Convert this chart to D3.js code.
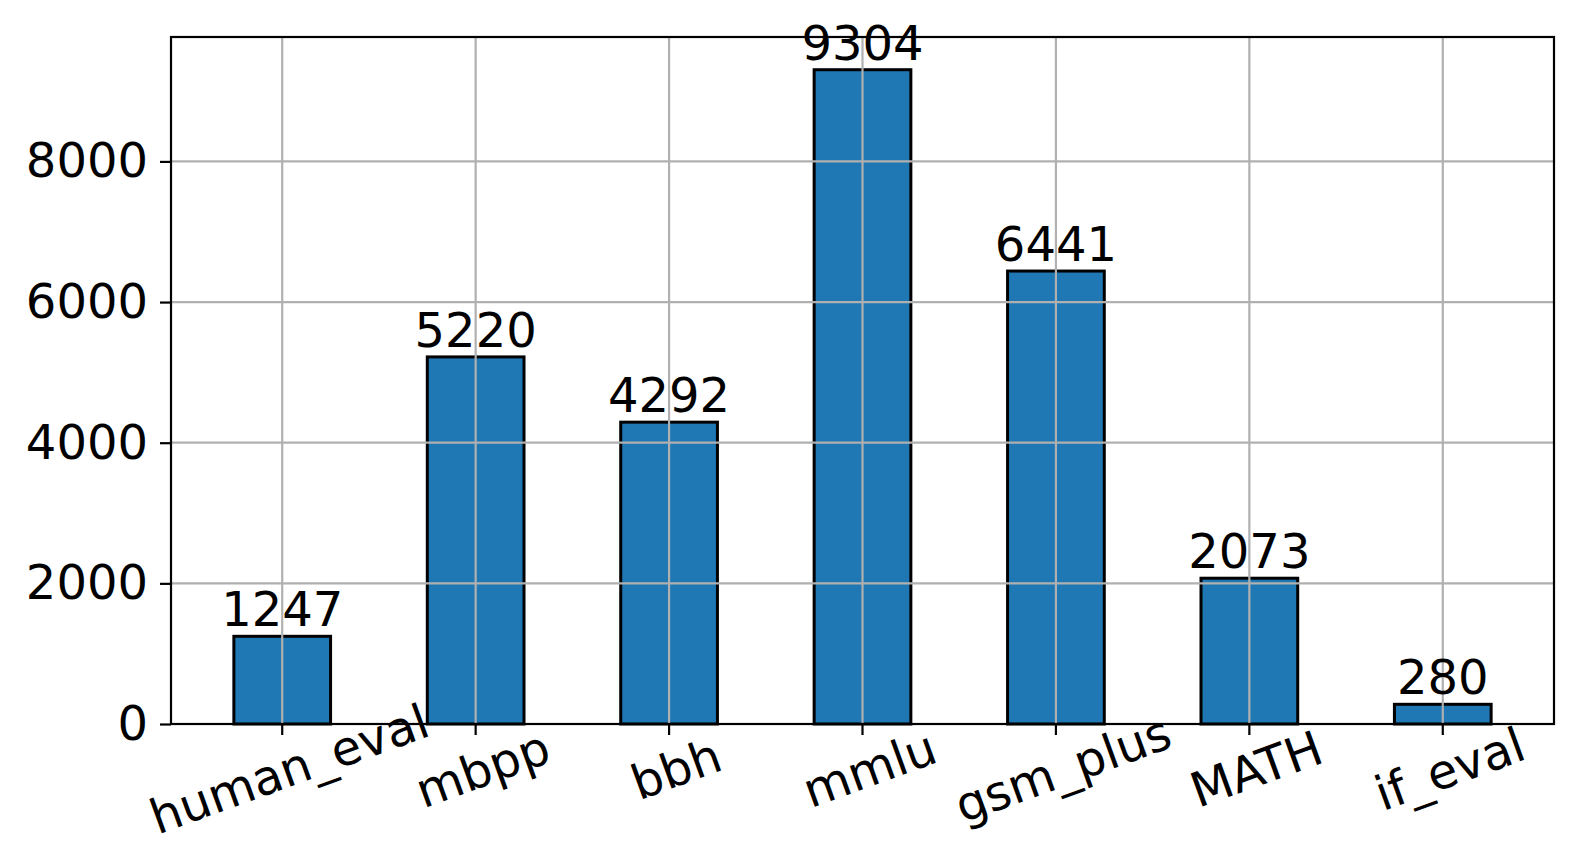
<!DOCTYPE html>
<html>
<head>
<meta charset="utf-8">
<script src="https://cdn.jsdelivr.net/npm/d3@7"></script>
<style>
  body { margin: 0; background: #fff; }
  text { font-family: "DejaVu Sans", sans-serif; fill: #000; }
</style>
</head>
<body>
<svg id="chart" width="1576" height="867"></svg>
<script>
// data
const categories = ["human_eval", "mbpp", "bbh", "mmlu", "gsm_plus", "MATH", "if_eval"];
const counts = [1247, 5220, 4292, 9304, 6441, 2073, 280];
const y_ticks = [0, 2000, 4000, 6000, 8000];

const svg = d3.select("#chart"),
  margin = {top: 37, right: 22, bottom: 143, left: 171},
  width = +svg.attr("width") - margin.left - margin.right,
  height = +svg.attr("height") - margin.top - margin.bottom;

const font_size = 48;
const tick_len = 11;

// positional x scale like pandas (bars at 0..n-1, width 0.5)
const x = d3.scaleLinear()
  .domain([-0.575, categories.length - 1 + 0.575])
  .range([0, width]);
const bar_w = x(0.5) - x(0);

const y = d3.scaleLinear()
  .domain([0, d3.max(counts) * 1.05])
  .range([height, 0]);

const g = svg.append("g").attr("transform", `translate(${margin.left},${margin.top})`);

// bars
g.selectAll("rect.bar")
  .data(counts)
  .enter()
  .append("rect")
  .attr("class", "bar")
  .attr("x", (d, i) => x(i) - bar_w / 2)
  .attr("y", d => y(d))
  .attr("width", bar_w)
  .attr("height", d => height - y(d))
  .attr("fill", "#1f77b4")
  .attr("stroke", "#000")
  .attr("stroke-width", 3);

// grid on top of bars
const grid = g.append("g").attr("class", "grid");
grid.selectAll("line.gx")
  .data(categories)
  .enter()
  .append("line")
  .attr("x1", (d, i) => x(i)).attr("x2", (d, i) => x(i))
  .attr("y1", 0).attr("y2", height)
  .attr("stroke", "#b0b0b0").attr("stroke-width", 2.2);
grid.selectAll("line.gy")
  .data(y_ticks)
  .enter()
  .append("line")
  .attr("x1", 0).attr("x2", width)
  .attr("y1", d => y(d)).attr("y2", d => y(d))
  .attr("stroke", "#b0b0b0").attr("stroke-width", 2.2);

// bar labels
g.selectAll("text.val")
  .data(counts)
  .enter()
  .append("text")
  .attr("class", "val")
  .attr("x", (d, i) => x(i))
  .attr("y", d => y(d) - 10)
  .attr("text-anchor", "middle")
  .style("font-size", font_size + "px")
  .text(d => d);

// y axis
const y_axis = d3.axisLeft(y).tickValues(y_ticks).tickFormat(d3.format("d")).tickSize(tick_len).tickPadding(12);
const ya = g.append("g").call(y_axis);
ya.select(".domain").remove();
ya.selectAll(".tick line").attr("stroke", "#000").attr("stroke-width", 2.2);
ya.selectAll(".tick text").style("font-size", font_size + "px").attr("font-family", "DejaVu Sans").attr("fill", "#000");

// x ticks
const xa = g.append("g").attr("transform", `translate(0,${height})`);
xa.selectAll("line")
  .data(categories)
  .enter()
  .append("line")
  .attr("x1", (d, i) => x(i)).attr("x2", (d, i) => x(i))
  .attr("y1", 0).attr("y2", tick_len)
  .attr("stroke", "#000").attr("stroke-width", 2.2);
xa.selectAll("text")
  .data(categories)
  .enter()
  .append("text")
  .attr("text-anchor", "middle")
  .attr("dy", "0.35em")
  .attr("transform", (d, i) => `translate(${x(i) + 7},45) rotate(-20)`)
  .style("font-size", font_size + "px")
  .text(d => d);

// frame
g.append("rect")
  .attr("x", 0).attr("y", 0)
  .attr("width", width).attr("height", height)
  .attr("fill", "none")
  .attr("stroke", "#000")
  .attr("stroke-width", 2.2);
</script>
</body>
</html>
